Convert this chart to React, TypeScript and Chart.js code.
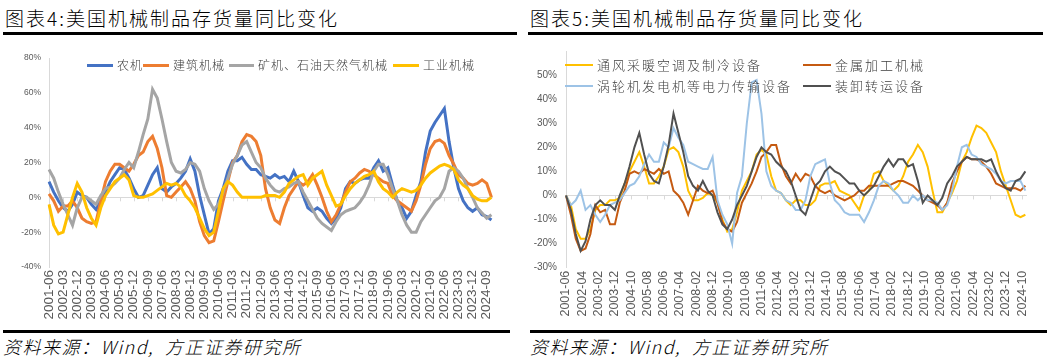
import React, { useEffect, useRef } from 'react';
import { Chart, registerables } from 'chart.js';
Chart.register(...registerables);

// ---------- tick labels (monthly categories 2001-06 .. 2025-01) ----------
const monthLabels: string[] = [];
for (let m = 0; m < 284; m++) {
  const t = 2001 * 12 + 5 + m;
  const yy = Math.floor(t / 12);
  const mm = (t % 12) + 1;
  monthLabels.push(`${yy}-${String(mm).padStart(2, '0')}`);
}

// ---------- Chart 4 series (quarterly readings from 2001-06, %) ----------
const farmMachinery = [9,3,-2,-6,-8,-4,3,1,0,-4, -7,-2,3,9,13,17,16,11,5,0, 1,7,13,17,5,3,6,8,11,15, 22,15,1,-10,-21,-18,-2,5,15,21, 21,23,19,16,16,13,12,11,13,11, 12,9,15,9,1,-6,-8,-6,-8,-12, -15,-12,-6,5,9,8,10,11,11,17, 21,15,17,7,-2,-6,-12,-8,1,9, 26,38,43,47,51,32,17,5,-2,-6, -8,-6,-10,-11,-13];
const constructionMachinery = [2,-2,-8,-5,-5,-2,-6,-12,-14,-15, -14,-2,9,15,19,19,17,15,19,24, 26,32,35,28,17,1,0,3,6,9, 5,-2,-14,-22,-26,-25,-14,-2,9,20, 24,32,36,35,32,24,5,-6,-13,-15, -6,1,5,9,7,9,13,7,0,-8, -14,-10,-4,3,9,11,14,16,15,13, 11,9,8,1,-2,-4,-6,-8,-2,7, 19,28,32,33,31,24,19,13,11,8, 7,8,10,8,0];
const miningOilGas = [16,11,3,-4,-10,-16,-6,0,0,-2, -4,1,5,6,8,11,16,20,17,26, 36,45,62,57,45,32,20,15,14,16, 20,19,15,5,-2,-7,-4,3,11,19, 24,30,32,26,20,17,11,7,4,3, 5,6,8,9,3,-2,-7,-12,-15,-17, -19,-14,-10,-8,-7,-6,-3,1,7,15, 19,19,13,5,-2,-10,-16,-20,-20,-14, -10,-6,-2,0,5,15,17,15,11,5, 0,-6,-9,-12,-10];
const industrialMachinery = [-4,-16,-21,-20,-10,0,8,3,-6,-12, -16,-6,1,5,9,11,13,10,1,0, 0,1,2,4,6,8,7,8,6,1, -2,-6,-12,-18,-22,-20,-8,5,9,7, 3,0,0,0,0,0,1,1,1,0, 3,8,10,12,13,7,11,13,15,7, 1,-5,-4,1,5,8,10,12,13,15, 9,5,3,0,3,5,4,3,4,7, 11,14,16,18,19,18,16,10,7,5, 1,-1,-2,-2,0];

// ---------- Chart 5 series (quarterly readings from 2001-06, %) ----------
const hvacEquipment = [0,-4,-14,-18,-18,-14,-6,-4,-4,-2, -2,-1,5,10,14,18,12,5,5,8, 12,19,20,18,12,2,-2,-2,-1,1, 0,-3,-10,-15,-14,-7,2,6,10,17, 19,17,8,2,1,-2,-4,-2,-2,-4, -4,-2,4,5,5,6,2,1,0,-3, -6,0,2,9,10,6,4,2,4,8, 14,17,21,18,12,2,-7,-7,-3,1, 6,14,18,24,29,28,26,22,18,10, 4,-2,-8,-9,-8];
const metalworking = [0,-8,-18,-23,-22,-16,-4,-7,-6,-12, -12,-3,2,9,10,9,11,10,9,11, 9,10,2,0,-3,-8,-2,4,2,1, 2,-3,-11,-14,-15,-11,-3,1,5,10, 16,18,21,21,13,8,5,9,6,9, 8,4,2,1,2,0,-1,-2,-1,0, 2,2,4,4,4,4,4,5,6,6, 5,4,2,0,-2,-3,-4,-6,-3,5, 10,14,16,15,15,14,12,9,5,4, 3,3,3,2,4];
const turbinePower = [0,-4,-2,2,-6,-4,-8,-11,-8,-4, -3,-2,1,4,5,8,13,17,14,14, 22,20,28,24,21,14,13,12,11,11, 16,-2,-8,-12,-20,1,8,30,47,48, 34,10,4,2,1,-2,-3,-6,-6,-2, 8,13,14,15,5,-2,-4,-7,-8,-8, -8,-11,-7,-2,4,6,5,2,0,-3, -3,0,-2,0,-2,-2,-3,-6,-4,2, 12,20,21,17,16,13,12,11,9,6, 5,6,6,6,2];
const materialHandling = [0,-6,-16,-23,-19,-10,-4,-2,-4,-4, -6,0,5,12,20,26,17,9,6,5, 12,21,34,26,18,8,4,2,6,2, 0,-7,-12,-14,-10,-4,0,4,10,16, 20,18,17,14,12,10,6,0,-6,-8, -2,4,6,10,12,10,9,7,5,5, 2,0,2,4,8,12,15,12,15,15, 12,13,6,-3,0,-2,-4,-1,5,8, 12,14,16,15,15,15,14,15,10,6, 3,2,6,7,10];

const toPoints = (vals: number[]) => vals.map((v, i) => ({ x: monthLabels[i * 3], y: v }));

const LATIN = "'Liberation Sans', Arial, sans-serif";
const CJK = "'Noto Sans CJK SC', 'Noto Sans', sans-serif";

const zeroTicks = (every: number) => ({
  id: 'zeroTicks' + every,
  beforeDatasetsDraw(chart: any) {
    const x = chart.scales.x, y = chart.scales.y;
    const y0 = y.getPixelForValue(0);
    const ctx = chart.ctx;
    ctx.save();
    ctx.strokeStyle = '#d9d9d9';
    ctx.lineWidth = 1;
    for (let i = 0; i < monthLabels.length; i += every) {
      const px = Math.round(x.getPixelForValue(i)) + 0.5;
      ctx.beginPath();
      ctx.moveTo(px, y0);
      ctx.lineTo(px, y0 + 4);
      ctx.stroke();
    }
    ctx.restore();
  },
});

function makeOptions(p: {
  every: number; min: number; max: number; step: number; yWidth: number; xHeight: number;
  padTop: number; padRight: number; yFont: number; xFont: number; yPad: number; hideTop?: boolean;
}) {
  return {
    animation: false,
    responsive: false,
    maintainAspectRatio: false,
    layout: { padding: { top: p.padTop, right: p.padRight, left: 0, bottom: 0 } },
    plugins: { legend: { display: false }, tooltip: { enabled: false }, title: { display: false } },
    elements: { point: { radius: 0 }, line: { tension: 0 } },
    scales: {
      x: {
        type: 'category',
        offset: false,
        grid: { display: false, drawTicks: false },
        border: { display: false },
        ticks: {
          autoSkip: false,
          minRotation: 90,
          maxRotation: 90,
          padding: 3,
          color: '#595959',
          font: { family: LATIN, size: p.xFont },
          callback: (_v: any, i: number) => (i % p.every === 0 ? monthLabels[i] : null),
        },
        afterFit: (s: any) => { s.height = p.xHeight; },
      },
      y: {
        min: p.min,
        max: p.max,
        grid: {
          drawTicks: false,
          color: (c: any) => (c.tick && c.tick.value === 0 ? '#d9d9d9' : 'rgba(0,0,0,0)'),
        },
        border: { display: true, color: '#d9d9d9' },
        ticks: {
          stepSize: p.step,
          padding: p.yPad,
          color: '#595959',
          font: { family: LATIN, size: p.yFont },
          callback: (v: any) => (p.hideTop && v === p.max ? '' : v + '%'),
        },
        afterFit: (s: any) => { s.width = p.yWidth; },
      },
    },
  };
}

function ChartCanvas({ config, style }: { config: () => any; style: React.CSSProperties }) {
  const ref = useRef<HTMLCanvasElement>(null);
  useEffect(() => {
    if (!ref.current) return;
    const chart = new Chart(ref.current, config());
    return () => chart.destroy();
  }, []);
  return <canvas ref={ref} width={style.width as number} height={style.height as number} style={{ position: 'absolute', ...style }} />;
}

function LegendItem({ x, y, w, color, thick, text, size, spacing }: any) {
  return (
    <div style={{ position: 'absolute', left: x, top: y - 10, height: 20, display: 'flex', alignItems: 'center', whiteSpace: 'nowrap' }}>
      <div style={{ width: w, height: thick, background: color, marginRight: 4 }} />
      <span style={{ fontFamily: CJK, fontSize: size, fontWeight: 300, letterSpacing: spacing, color: '#404040', lineHeight: '20px' }}>{text}</span>
    </div>
  );
}

const leftConfig = () => ({
  type: 'line',
  data: {
    labels: monthLabels,
    datasets: [
      { label: '农机', data: toPoints(farmMachinery), borderColor: '#4472C4', borderWidth: 3, order: 3 },
      { label: '建筑机械', data: toPoints(constructionMachinery), borderColor: '#ED7D31', borderWidth: 3, order: 2 },
      { label: '矿机、石油天然气机械', data: toPoints(miningOilGas), borderColor: '#A5A5A5', borderWidth: 3, order: 1 },
      { label: '工业机械', data: toPoints(industrialMachinery), borderColor: '#FFC000', borderWidth: 3, order: 0 },
    ],
  },
  options: makeOptions({ every: 9, min: -40, max: 80, step: 20, yWidth: 49, xHeight: 58, padTop: 18, padRight: 17, yFont: 8.5, xFont: 13.5, yPad: 8 }),
  plugins: [zeroTicks(9)],
});

const rightConfig = () => ({
  type: 'line',
  data: {
    labels: monthLabels,
    datasets: [
      { label: '通风采暖空调及制冷设备', data: toPoints(hvacEquipment), borderColor: '#FFC000', borderWidth: 2, order: 3 },
      { label: '金属加工机械', data: toPoints(metalworking), borderColor: '#C55A11', borderWidth: 2, order: 2 },
      { label: '涡轮机发电机等电力传输设备', data: toPoints(turbinePower), borderColor: '#9DC3E6', borderWidth: 2, order: 1 },
      { label: '装卸转运设备', data: toPoints(materialHandling), borderColor: '#505050', borderWidth: 2, order: 0 },
    ],
  },
  options: makeOptions({ every: 10, min: -30, max: 60, step: 10, yWidth: 41, xHeight: 58.3, padTop: 6.7, padRight: 18, yFont: 10, xFont: 12.5, yPad: 9, hideTop: true }),
  plugins: [zeroTicks(10)],
});

const titleStyle: React.CSSProperties = {
  position: 'absolute', top: 6, fontFamily: CJK, fontSize: 19, fontWeight: 300, letterSpacing: 2, color: '#000', lineHeight: '24px', whiteSpace: 'nowrap',
};
const sourceStyle: React.CSSProperties = {
  position: 'absolute', top: 334, fontFamily: CJK, fontSize: 18, fontWeight: 300, fontStyle: 'italic', letterSpacing: 1.5, color: '#000', lineHeight: '24px', whiteSpace: 'pre',
};
const rule = (left: number, top: number, width: number, h = 3): React.CSSProperties => ({
  position: 'absolute', left, top, width, height: h, background: '#000',
});

export default function App() {
  return (
    <div style={{ position: 'fixed', left: 0, top: 0, width: 1048, height: 363, background: '#fff', overflow: 'hidden' }}>
      <div style={{ ...titleStyle, left: 5 }}>图表4:美国机械制品存货量同比变化</div>
      <div style={{ ...titleStyle, left: 530 }}>图表5:美国机械制品存货量同比变化</div>
      <div style={rule(3, 32, 514)} />
      <div style={rule(528, 32, 515)} />

      <ChartCanvas config={leftConfig} style={{ left: 0, top: 40, width: 510, height: 285 }} />
      <ChartCanvas config={rightConfig} style={{ left: 525, top: 36, width: 520, height: 290 }} />

      <LegendItem x={87} y={65} w={26} color="#4472C4" thick={3} text="农机" size={12} spacing={1} />
      <LegendItem x={143} y={65} w={26} color="#ED7D31" thick={3} text="建筑机械" size={12} spacing={1} />
      <LegendItem x={229} y={65} w={25} color="#A5A5A5" thick={3} text="矿机、石油天然气机械" size={12} spacing={1} />
      <LegendItem x={393} y={65} w={26} color="#FFC000" thick={3} text="工业机械" size={12} spacing={1} />

      <LegendItem x={565} y={65} w={28} color="#FFC000" thick={2} text="通风采暖空调及制冷设备" size={13} spacing={2} />
      <LegendItem x={803} y={65} w={28} color="#C55A11" thick={2} text="金属加工机械" size={13} spacing={2} />
      <LegendItem x={565} y={86} w={28} color="#9DC3E6" thick={2} text="涡轮机发电机等电力传输设备" size={13} spacing={2} />
      <LegendItem x={803} y={86} w={28} color="#505050" thick={2} text="装卸转运设备" size={13} spacing={2} />

      <div style={rule(3, 330, 507)} />
      <div style={rule(530, 330, 517)} />
      <div style={{ ...sourceStyle, left: 3 }}>资料来源：Wind,  方正证券研究所</div>
      <div style={{ ...sourceStyle, left: 530 }}>资料来源：Wind,  方正证券研究所</div>
    </div>
  );
}
